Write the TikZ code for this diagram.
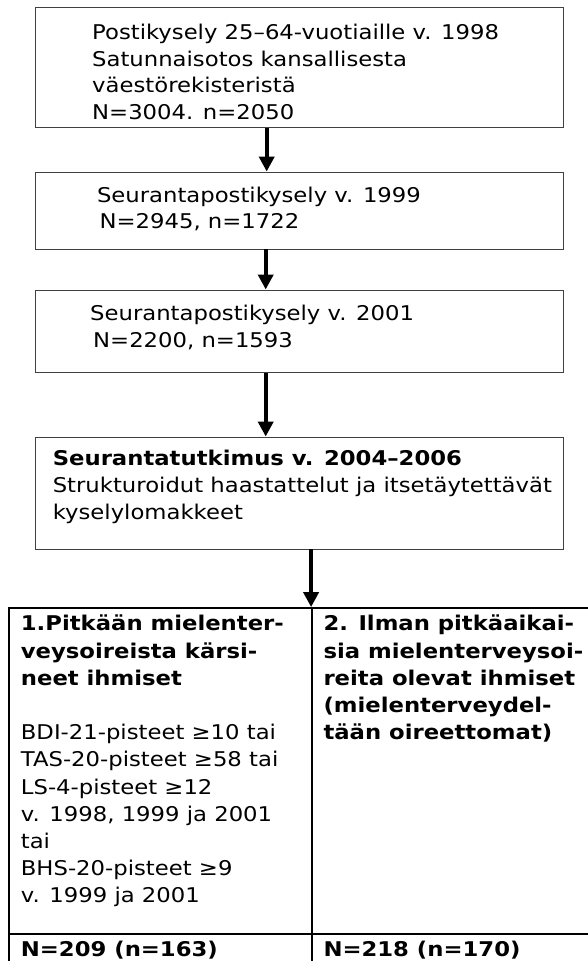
\documentclass[tikz,border=0pt]{standalone}
\usepackage{fontspec}
\setmainfont{DejaVu Sans}[FakeStretch=1.12]
\usetikzlibrary{arrows.meta,positioning}

\begin{document}
\begin{tikzpicture}[x=1pt,y=-1pt]
	\tikzset{flbox/.style={draw=black!75, line width=0.9pt, minimum width=528pt, inner sep=0pt}}
	\tikzset{flcell/.style={draw=black, line width=1.8pt, inner sep=0pt}}
	\tikzset{fltext/.style={anchor=west, align=left, inner sep=0pt,
				font=\fontsize{20.3}{26.7}\selectfont}}
	\tikzset{fltab/.style={fltext, anchor=north west, font=\fontsize{20.3}{27.2}\selectfont}}
	\tikzset{flarrow/.style={line width=3.8pt, -{Triangle[length=15pt,width=15pt]}}}

	\useasboundingbox (0,0) rectangle (588,961);

	% boxes
	\node[flbox, minimum height=120.4pt] (b1) at (299.7,67.5) {};
	\node[flbox, minimum height=77pt] (b2) at (299.7,210.5) {};
	\node[flbox, minimum height=82.7pt] (b3) at (299.7,331.3) {};
	\node[flbox, minimum height=112pt] (b4) at (299.7,493) {};

	% table, cut at the right and bottom edges
	\node[flcell, minimum width=303pt, minimum height=326pt] (c1) at (160.5,771) {};
	\node[flcell, minimum width=290pt, minimum height=326pt] (c2) at (457,771) {};
	\node[flcell, minimum width=303pt, minimum height=40pt] (c3) at (160.5,954) {};
	\node[flcell, minimum width=290pt, minimum height=40pt] (c4) at (457,954) {};

	% texts
	\node[fltext] (t1) at (92,72) {Postikysely 25–64-vuotiaille v. 1998\\
		Satunnaisotos kansallisesta\\väestörekisteristä\\N=3004. n=2050};
	\node[fltext] (t2) at (96.8,209) {Seurantapostikysely v. 1999\\
		\hspace*{2.6pt}N=2945, n=1722};
	\node[fltext] (t3) at (90,327.5) {Seurantapostikysely v. 2001\\
		\hspace*{3pt}N=2200, n=1593};
	\node[fltext] (t4) at (52.6,487) {\textbf{Seurantatutkimus v. 2004–2006}\\
		Strukturoidut haastattelut ja itsetäytettävät\\kyselylomakkeet};
	\node[fltab] (t5) at (20.7,615) {\textbf{1.Pitkään mielenter-}\\
		\textbf{veysoireista kärsi-}\\\textbf{neet ihmiset}\\[27.2pt]
		BDI-21-pisteet ≥10 tai\\TAS-20-pisteet ≥58 tai\\LS-4-pisteet ≥12\\
		v. 1998, 1999 ja 2001\\tai\\BHS-20-pisteet ≥9\\v. 1999 ja 2001};
	\node[fltab, font=\fontsize{20.3}{27.2}\selectfont\bfseries] (t6)
		at (323.3,615) {2. Ilman pitkäaikai-\\sia mielenterveysoi-\\
		reita olevat ihmiset\\(mielenterveydel-\\tään oireettomat)};
	\node[fltext, font=\fontsize{20.3}{26.7}\selectfont\bfseries] (t7) at (20.7,950) {N=209 (n=163)};
	\node[fltext, font=\fontsize{20.3}{26.7}\selectfont\bfseries] (t8) at (323.3,950) {N=218 (n=170)};

	% arrows
	\draw[flarrow] ([xshift=-33pt]b1.south) -- ([xshift=-33pt]b2.north);
	\draw[flarrow] ([xshift=-34pt]b2.south) -- ([xshift=-34pt]b3.north);
	\draw[flarrow] ([xshift=-34pt]b3.south) -- ([xshift=-34pt]b4.north);
	\draw[flarrow] (b4.south -| c2.north west) -- (c2.north west);
\end{tikzpicture}
\end{document}
